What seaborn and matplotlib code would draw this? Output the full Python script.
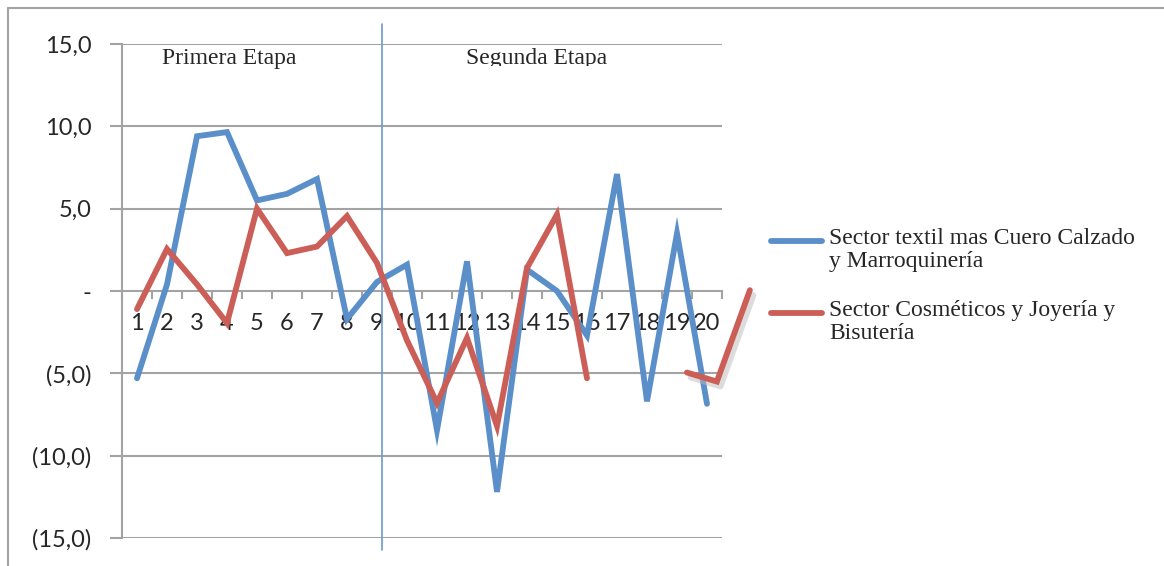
import numpy as np
import pandas as pd
import matplotlib
matplotlib.use("Agg")
import matplotlib.pyplot as plt
from matplotlib.lines import Line2D
from matplotlib.transforms import Bbox
import seaborn as sns

# Variación por periodo (%)
periodos = list(range(1, 21))
textil_cuero = [-5.3, 0.4, 9.4, 9.65, 5.5, 5.9, 6.8, -1.7, 0.55, 1.6,
                -8.45, 1.8, -12.2, 1.3, 0.0, -2.7, 7.1, -6.7, 3.5, -6.85]
cosmeticos_joyeria = [-1.1, 2.55, 0.4, -1.95, 5.0, 2.3, 2.7, 4.55, 1.7, -3.0,
                      -6.8, -2.85, -8.2, 1.4, 4.65, -5.3, np.nan, np.nan, np.nan, np.nan]
# trazo a mano alzada al final de la serie roja
trazo_x = [19.33, 20.33, 21.43]
trazo_y = [-4.95, -5.5, 0.05]

serie_a = "Sector textil mas Cuero Calzado\ny Marroquinería"
serie_b = "Sector Cosméticos y Joyería y\nBisutería"
y_ticks = [-15, -10, -5, 0, 5, 10, 15]
y_labels = ["(15,0)", "(10,0)", "(5,0)", "-", "5,0", "10,0", "15,0"]
division = 9.18

azul = "#5A8FCA"
rojo = "#CB5F58"
gris = "#A3A3A3"
LW = 4.2

df = pd.DataFrame({
    "periodo": periodos * 2,
    "valor": textil_cuero + cosmeticos_joyeria,
    "serie": [serie_a] * 20 + [serie_b] * 20,
})

sns.set_theme(style="white")
plt.rcParams["font.family"] = ["Lato", "DejaVu Sans"]

W, H = 1164, 566
fig = plt.figure(figsize=(W / 100, H / 100), dpi=100)
ax = fig.add_axes([122 / W, 1 - 538 / H, 600 / W, (538 - 44) / H])

for y in [-15, -10, -5, 5, 10, 15]:
    ax.axhline(y, color=gris, lw=1.5, zorder=0)

sns.lineplot(data=df, x="periodo", y="valor", hue="serie",
             palette={serie_a: azul, serie_b: rojo}, lw=LW, ax=ax,
             legend=False, sort=False, zorder=3)
for ln in ax.lines:
    ln.set_solid_capstyle("round")
    ln.set_solid_joinstyle("miter")

# trazo con sombra
ax.plot([x + 0.12 for x in trazo_x], [y - 0.3 for y in trazo_y], color="#bbbbbb",
        lw=LW, alpha=0.5, clip_on=False, zorder=3)
ax.plot(trazo_x, trazo_y, color=rojo, lw=LW, clip_on=False, zorder=4,
        solid_joinstyle="miter")

ax.set_xlim(0.5, 20.5)
ax.set_ylim(-15, 15)

# eje x en el cero
for s in ["top", "right"]:
    ax.spines[s].set_visible(False)
ax.spines["bottom"].set_position(("data", 0))
ax.spines["bottom"].set_color(gris)
ax.spines["bottom"].set_linewidth(1.5)
ax.spines["left"].set_color(gris)
ax.spines["left"].set_linewidth(1.5)

ax.set_xticks(periodos)
ax.set_xticklabels([str(p) for p in periodos], fontsize=17)
ax.set_xticks(np.arange(0.5, 21, 1), minor=True)
ax.tick_params(axis="x", which="major", length=0, pad=16)
ax.tick_params(axis="x", which="minor", length=6, width=1.5, color=gris,
               direction="out", bottom=True)
ax.set_yticks(y_ticks)
ax.set_yticklabels(y_labels, fontsize=17)
ax.tick_params(axis="y", length=9, width=1.5, color=gris, direction="out",
               left=True, pad=13)
ax.set_xlabel("")
ax.set_ylabel("")

ax.plot([division, division], [16.2, -15.75], color="#6A9BD1", lw=1.2,
        clip_on=False, zorder=2)

serif = "Liberation Serif"
fig.text(229 / W, 1 - 58 / H, "Primera Etapa", family=serif, fontsize=17,
         ha="center", va="center")
t2 = fig.text(537 / W, 1 - 58 / H, "Segunda Etapa", family=serif, fontsize=17,
              ha="center", va="center")
# el rótulo queda recortado por debajo
t2.set_clip_box(Bbox.from_extents(0, H - 66, W, H))
t2.set_clip_on(True)

# leyenda
for color, texto, yh in [(azul, serie_a, 241), (rojo, serie_b, 313)]:
    fig.add_artist(Line2D([771 / W, 822 / W], [1 - yh / H] * 2, color=color,
                          lw=LW, solid_capstyle="round",
                          transform=fig.transFigure))
    fig.text(829 / W, 1 - (yh - 13) / H, texto, family=serif, fontsize=17,
             ha="left", va="top", linespacing=1.12)

# marco exterior
fig.add_artist(Line2D([8 / W, 1], [1 - 8 / H] * 2, color=gris, lw=1.5,
                      transform=fig.transFigure))
fig.add_artist(Line2D([8 / W] * 2, [0, 1 - 8 / H], color=gris, lw=1.5,
                      transform=fig.transFigure))

fig.savefig("out.png", dpi=100)
